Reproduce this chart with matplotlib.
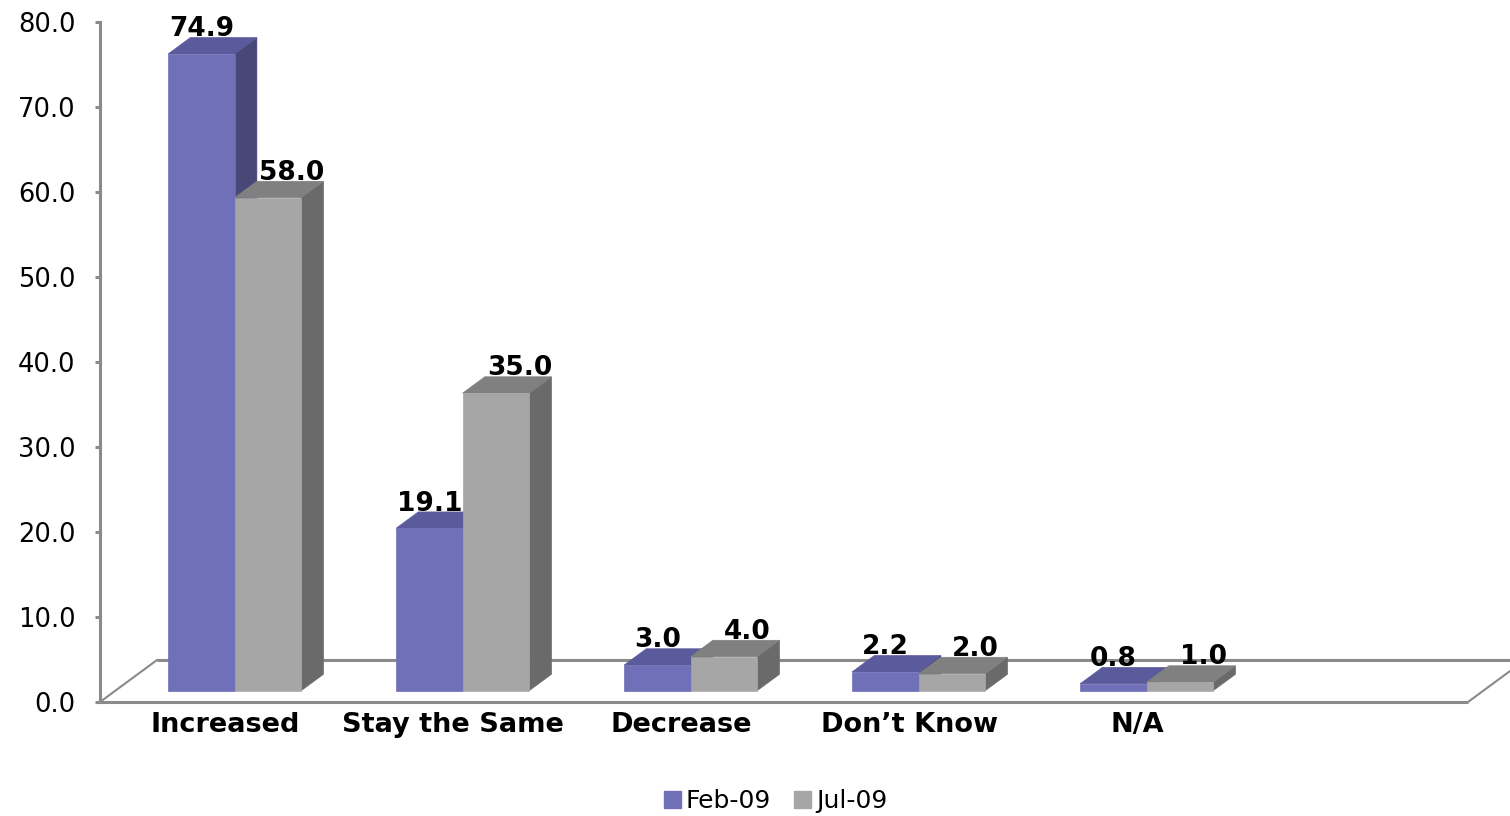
import numpy as np
import matplotlib
matplotlib.use("Agg")
import matplotlib.pyplot as plt
from matplotlib.patches import Polygon, Patch

# %% ---------------------------------
#           data
# ------------------------------------
categories = ["Increased", "Stay the Same", "Decrease", "Don\u2019t Know", "N/A"]
series_names = ["Feb-09", "Jul-09"]
feb_09 = [74.9, 19.1, 3.0, 2.2, 0.8]
jul_09 = [58.0, 35.0, 4.0, 2.0, 1.0]
yticks = np.arange(0, 81, 10)

# %% ---------------------------------
#           style
# ------------------------------------
front_cols = ["#7070B8", "#A6A6A6"]
top_cols = ["#5A5A9C", "#808080"]
side_cols = ["#484878", "#6A6A6A"]
grey = "#8A8A8A"

n_slots = 6            # excel leaves an empty slot at the right
bar_w = 0.292
group_off = -0.269
z_front, z_back = 0.27, 0.66
depth_x, depth_y = 0.25, 4.94   # floor depth (x units, y units) for z = 1

def proj(x, y, z):
    return (x + depth_x * z, y + depth_y * z)

fig = plt.figure(figsize=(15.1, 8.16), dpi=100)
ax = fig.add_axes([100 / 1510, 114 / 816, 1368 / 1510, 680 / 816])
ax.set_xlim(-0.5, n_slots - 0.5)
ax.set_ylim(0, 80)
for s in ["top", "right", "bottom"]:
    ax.spines[s].set_visible(False)
ax.spines["left"].set_color(grey)
ax.spines["left"].set_linewidth(2.2)

# %% ---------------------------------
#           floor
# ------------------------------------
x_lo, x_hi = -0.5, n_slots - 0.5
floor_kw = dict(color=grey, lw=2.2, clip_on=False, solid_capstyle="butt")
bl, br = proj(x_lo, 0, 1), proj(x_hi, 0, 1)
ax.plot([bl[0], br[0]], [bl[1], br[1]], zorder=1, **floor_kw)
ax.plot([x_lo, x_hi], [0, 0], zorder=1, **floor_kw)
ax.plot([x_lo, bl[0]], [0, bl[1]], zorder=1, color=grey, lw=1.5, clip_on=False)
ax.plot([x_hi, br[0]], [0, br[1]], zorder=1, color=grey, lw=1.5, clip_on=False)

# %% ---------------------------------
#           bars
# ------------------------------------
label_dx = [0, 17]   # points
for i in range(len(categories)):
    for s, vals in enumerate([feb_09, jul_09]):
        v = vals[i]
        x0 = i + group_off + s * bar_w
        x1 = x0 + bar_w
        front = [proj(x0, 0, z_front), proj(x1, 0, z_front),
                 proj(x1, v, z_front), proj(x0, v, z_front)]
        top = [proj(x0, v, z_front), proj(x1, v, z_front),
               proj(x1, v, z_back), proj(x0, v, z_back)]
        side = [proj(x1, 0, z_front), proj(x1, 0, z_back),
                proj(x1, v, z_back), proj(x1, v, z_front)]
        zo = 2 + i * 2 + s
        for pts, col in [(side, side_cols[s]), (top, top_cols[s]), (front, front_cols[s])]:
            ax.add_patch(Polygon(pts, closed=True, facecolor=col, edgecolor=col,
                                 lw=0.5, zorder=zo, clip_on=False))
        lx, ly = proj(x0 + bar_w / 2, v, z_front)
        ly = proj(0, v, z_back)[1]
        ax.annotate(f"{v:.1f}", xy=(lx, ly), xytext=(label_dx[s], 1),
                    textcoords="offset points", ha="center", va="baseline",
                    fontsize=19, fontweight="bold", color="black", zorder=20)

# %% ---------------------------------
#           axes text
# ------------------------------------
ax.set_yticks(yticks)
ax.set_yticklabels([f"{t:.1f}" for t in yticks])
ax.tick_params(axis="y", length=3.6, width=2.2, color=grey, pad=14,
               labelsize=18.5, labelcolor="black")
ax.set_xticks(np.arange(len(categories)) + 0.05)
ax.set_xticklabels(categories, fontweight="bold", fontsize=19.5)
ax.tick_params(axis="x", length=0, pad=7)

handles = [Patch(facecolor=c, edgecolor=c) for c in front_cols]
fig.legend(handles, series_names, loc="center",
           bbox_to_anchor=(775.5 / 1510, 1 - 801 / 816), ncol=2, frameon=False,
           fontsize=18, handlelength=0.7, handleheight=0.7,
           handletextpad=0.2, columnspacing=0.9, borderpad=0)

fig.savefig("out.png", dpi=100)
